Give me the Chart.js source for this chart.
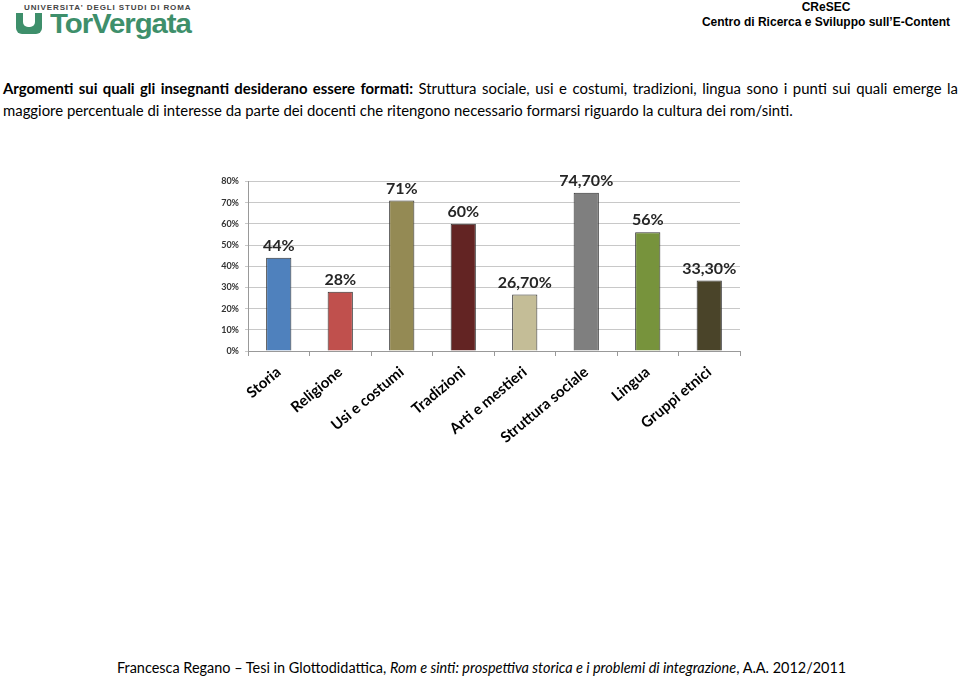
<!DOCTYPE html>
<html>
<head>
<meta charset="utf-8">
<script src="https://cdn.jsdelivr.net/npm/chart.js@4/dist/chart.umd.min.js"></script>
<style>
  body { margin: 0; width: 960px; height: 678px; background: #fff; position: relative; overflow: hidden; font-family: Lato, "Open Sans", sans-serif; }
  .uni { position: absolute; left: 24px; top: 4px; font: bold 8px/8px "Liberation Sans", Arial, sans-serif; color: #444; letter-spacing: 0.9px; }
  .shield { position: absolute; left: 16px; top: 13px; width: 26px; height: 21px; background: #3e8f6b; border-radius: 0 0 6px 6px; }
  .shield::after { content: ""; position: absolute; left: 7px; top: 0; width: 12px; height: 14px; background: #fff; border-radius: 0 0 5px 5px; }
  .tv { position: absolute; left: 50px; top: 8px; font: bold 28px "Liberation Sans", Arial, sans-serif; color: #3e8f6b; letter-spacing: -1px; transform: scaleX(1.05); transform-origin: left; }
  .cresec { position: absolute; right: 10px; top: 0; text-align: center; font: bold 12px "Liberation Sans", Arial, sans-serif; color: #000; line-height: 15px; }
  .para { position: absolute; left: 3px; top: 77px; width: 955px; font-size: 14.9px; line-height: 22px; color: #000; text-align: justify; }
  #chartBox { position: absolute; left: 200px; top: 170px; width: 548px; height: 290px; }
  .foot { position: absolute; left: 117px; top: 659px; font-size: 14.45px; color: #000; white-space: nowrap; }
</style>
</head>
<body>
<div class="uni">UNIVERSITA' DEGLI STUDI DI ROMA</div>
<div class="shield"></div>
<div class="tv">TorVergata</div>
<div class="cresec">CReSEC<br>Centro di Ricerca e Sviluppo sull’E-Content</div>
<div class="para"><b>Argomenti sui quali gli insegnanti desiderano essere formati:</b> Struttura sociale, usi e costumi, tradizioni, lingua sono i punti sui quali emerge la maggiore percentuale di interesse da parte dei docenti che ritengono necessario formarsi riguardo la cultura dei rom/sinti.</div>
<div id="chartBox"><canvas id="barChart"></canvas></div>
<div class="foot">Francesca Regano – Tesi in Glottodidattica, <i>Rom e sinti: prospettiva storica e i problemi di integrazione</i>, A.A. 2012/2011</div>
<script>
// DATA
const categories = ['Storia', 'Religione', 'Usi e costumi', 'Tradizioni', 'Arti e mestieri', 'Struttura sociale', 'Lingua', 'Gruppi etnici'];
const values = [44, 28, 71, 60, 26.7, 74.7, 56, 33.3];
const valueLabels = ['44%', '28%', '71%', '60%', '26,70%', '74,70%', '56%', '33,30%'];
const barColors = ['#4f81bd', '#c0504d', '#948a54', '#632423', '#c4bd97', '#7f7f7f', '#77933c', '#4a4429'];

// value labels above the bars
const topLabels = {
    id: 'topLabels',
    afterDatasetsDraw(chart) {
        const c = chart.ctx;
        const meta = chart.getDatasetMeta(0);
        c.save();
        c.font = 'bold 16px Lato, sans-serif';
        c.fillStyle = '#262626';
        c.textAlign = 'center';
        c.textBaseline = 'bottom';
        meta.data.forEach((bar, i) => {
            c.fillText(valueLabels[i], bar.x, bar.y - 4);
        });
        c.restore();
    }
};

const ctx = document.getElementById('barChart').getContext('2d');
const barChart = new Chart(ctx, {
    type: 'bar',
    data: {
        labels: categories,
        datasets: [{
            data: values,
            backgroundColor: barColors,
            borderColor: '#333',
            borderWidth: 1,
            barPercentage: 0.5,
            categoryPercentage: 0.82
        }]
    },
    options: {
        responsive: true,
        maintainAspectRatio: false,
        animation: false,
        layout: { padding: { top: 11, right: 8 } },
        scales: {
            y: {
                min: 0, max: 80,
                ticks: {
                    stepSize: 10,
                    color: '#333',
                    padding: 6,
                    font: { family: 'Lato', weight: 'bold', size: 9 },
                    callback: v => v + '%'
                },
                grid: { color: '#c8c8c8', tickLength: 3 },
                border: { color: '#999' },
                afterFit: s => { s.width = 48; }
            },
            x: {
                ticks: {
                    minRotation: 40, maxRotation: 40,
                    color: '#000',
                    padding: 7,
                    font: { family: 'Lato', weight: 'bold', size: 15 }
                },
                grid: { drawOnChartArea: false, tickLength: 5, color: '#999' },
                border: { color: '#999' },
                afterFit: s => { s.height = 109; }
            }
        },
        plugins: { legend: { display: false }, tooltip: { enabled: false } }
    },
    plugins: [topLabels]
});
</script>
</body>
</html>
